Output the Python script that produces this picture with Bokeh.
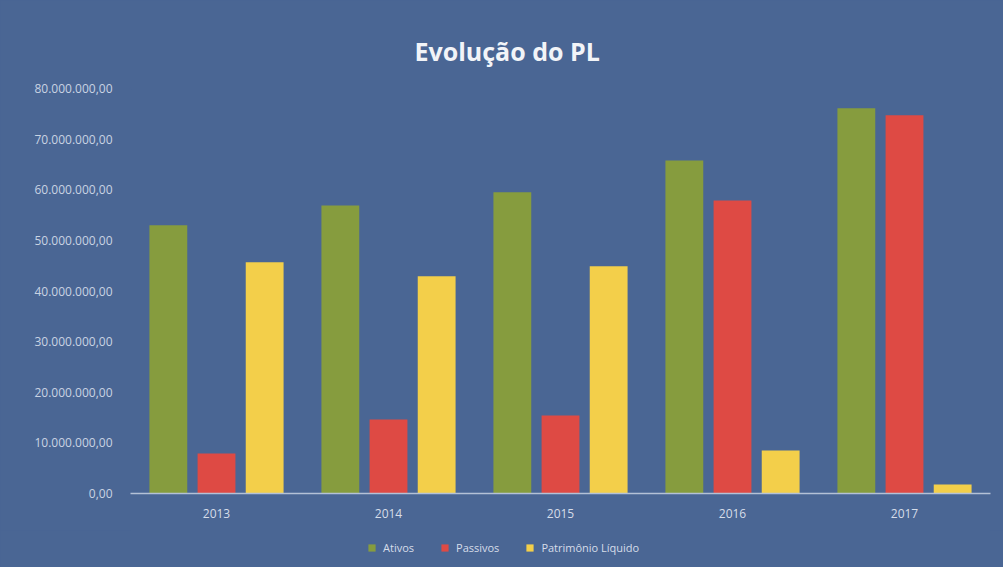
from bokeh.plotting import figure
from bokeh.layouts import column
from bokeh.models import ColumnDataSource, FactorRange, Range1d, Legend, LegendItem, FixedTicker
from bokeh.transform import dodge
from bokeh.embed import file_html
from bokeh.resources import INLINE

years = ["2013", "2014", "2015", "2016", "2017"]
ativos = [53.0e6, 56.9e6, 59.5e6, 65.8e6, 76.1e6]
passivos = [7.9e6, 14.6e6, 15.4e6, 57.9e6, 74.7e6]
patrimonio = [45.7e6, 42.9e6, 44.9e6, 8.5e6, 1.8e6]
series_names = ["Ativos", "Passivos", "Patrimônio Líquido"]
y_ticks = [0, 10e6, 20e6, 30e6, 40e6, 50e6, 60e6, 70e6, 80e6]
y_tick_labels = ["0,00", "10.000.000,00", "20.000.000,00", "30.000.000,00",
                 "40.000.000,00", "50.000.000,00", "60.000.000,00",
                 "70.000.000,00", "80.000.000,00"]

BG = "#4a6694"
colors = ["#869c3e", "#de4a44", "#f3cf4a"]
FONT = "Open Sans"
fields = ["ativos", "passivos", "patrimonio"]
offsets = [-0.28, 0.0, 0.28]

src = ColumnDataSource(dict(year=years, ativos=ativos, passivos=passivos, patrimonio=patrimonio))

# main chart
p = figure(x_range=FactorRange(*years), y_range=Range1d(0, 80e6),
           width=1003, height=530,
           output_backend="svg", toolbar_location=None,
           background_fill_color=BG, border_fill_color=BG,
           outline_line_color=BG, outline_line_width=2,
           min_border_left=130, min_border_right=13, min_border_top=88, min_border_bottom=37)

p.title.text = "Evolução do PL"
p.title.align = "left"
p.title.text_color = "#f2f4f8"
p.title.text_font = FONT
p.title.text_font_style = "bold"
p.title.text_font_size = "25px"
p.title.offset = 284
p.title.standoff = 41

for f, off, c in zip(fields, offsets, colors):
    p.vbar(x=dodge("year", off, range=p.x_range), top=f, width=0.22, source=src,
           fill_color=c, line_color=None)

p.xgrid.grid_line_color = None
p.ygrid.grid_line_color = None

p.yaxis.ticker = FixedTicker(ticks=y_ticks)
p.yaxis.major_label_overrides = {t: l for t, l in zip(y_ticks, y_tick_labels)}
p.yaxis.axis_line_color = None
p.yaxis.major_tick_line_color = None
p.yaxis.minor_tick_line_color = None
p.yaxis.major_label_text_color = "#c9d3e3"
p.yaxis.major_label_text_font = FONT
p.yaxis.major_label_text_font_size = "12px"
p.yaxis.major_label_standoff = 12

p.xaxis.axis_line_color = "#b4c1d6"
p.xaxis.axis_line_width = 1.5
p.xaxis.major_tick_line_color = None
p.xaxis.minor_tick_line_color = None
p.xaxis.major_label_text_color = "#d6dde9"
p.xaxis.major_label_text_font = FONT
p.xaxis.major_label_text_font_size = "12px"
p.xaxis.major_label_standoff = 9

# legend strip below the chart (zero-height swatch renderers, outside the view)
lg = figure(x_range=FactorRange(*years), y_range=Range1d(1, 2),
            width=1003, height=37, output_backend="svg", toolbar_location=None,
            x_axis_location=None, y_axis_location=None,
            background_fill_color=BG, border_fill_color=BG, outline_line_color=None,
            min_border_left=0, min_border_right=0, min_border_top=0, min_border_bottom=0)
lg.xgrid.grid_line_color = None
lg.ygrid.grid_line_color = None
lg_renderers = []
for off, c in zip(offsets, colors):
    r = lg.vbar(x=dodge("year", off, range=lg.x_range), top=0, bottom=0, width=0.22, source=src,
                fill_color=c, line_color=None)
    lg_renderers.append(r)

legend = Legend(items=[LegendItem(label=n, renderers=[r]) for n, r in zip(series_names, lg_renderers)],
                orientation="horizontal", location=(237, 12),
                background_fill_alpha=0, border_line_color=None,
                label_text_color="#d6dde9", label_text_font=FONT, label_text_font_size="11px",
                glyph_width=9, glyph_height=9, spacing=26, padding=0, margin=0, label_standoff=7,
                label_height=12)
lg.add_layout(legend, "center")

layout = column(p, lg, spacing=0, styles={"background-color": BG})
open("out.html", "w").write(file_html(layout, INLINE))
